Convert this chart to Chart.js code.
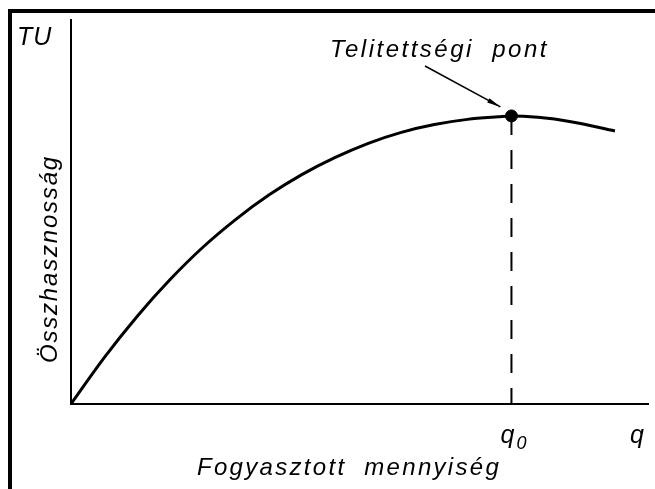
<!DOCTYPE html>
<html>
<head>
<meta charset="utf-8">
<script src="https://cdn.jsdelivr.net/npm/chart.js@4/dist/chart.umd.min.js"></script>
<style>
  html, body { margin: 0; padding: 0; background: #fff; }
  #wrap { width: 655px; height: 489px; }
</style>
</head>
<body>
<div id="wrap"><canvas id="canvas" width="655" height="489"></canvas></div>
<script>
// consumed quantity (q) and total utility (TU)
var qValues = [0, 0.75, 1.5, 2.25, 3, 3.75, 4.5, 5.25, 6, 6.75, 7.5, 8.25, 9, 9.7, 10, 10.6, 11.35, 12.35];
var tuValues = [0, 1.6, 3.04, 4.32, 5.45, 6.42, 7.26, 7.97, 8.56, 9.05, 9.43, 9.7, 9.88, 9.97, 10, 9.95, 9.8, 9.48];
var satQ = 10;      // q0, saturation point
var satTU = 10;
var axisLabels = { x: 'Fogyasztott  mennyiség', y: 'Összhasznosság', xEnd: 'q', yEnd: 'TU', q0: 'q', point: 'Telitettségi  pont' };

var curve = qValues.map(function(q, i){ return { x: q, y: tuValues[i] }; });

var font = function(size){ return 'italic ' + size + 'px "Liberation Sans", Arial, sans-serif'; };

var drawingBits = {
    id: 'drawingBits',
    afterDraw: function(chart){
        var ctx = chart.ctx;
        var xs = chart.scales.x, ys = chart.scales.y;
        ctx.save();
        // frame (top and left only)
        ctx.fillStyle = '#000';
        ctx.fillRect(8, 9, 647, 4);
        ctx.fillRect(8, 9, 4, 480);

        ctx.textBaseline = 'alphabetic';
        ctx.textAlign = 'left';

        ctx.letterSpacing = '1px';
        ctx.font = font(25);
        ctx.fillText(axisLabels.yEnd, 17, 45);

        var px = xs.getPixelForValue(satQ), py = ys.getPixelForValue(satTU);

        // label + arrow
        ctx.letterSpacing = '2.5px';
        ctx.font = font(24);
        ctx.fillText(axisLabels.point, 330, 57);
        var ex = px - 11, ey = py - 9;
        var sx = 425, sy = 66;
        ctx.strokeStyle = '#000';
        ctx.lineWidth = 1.5;
        ctx.beginPath();
        ctx.moveTo(sx, sy);
        ctx.lineTo(ex, ey);
        ctx.stroke();
        var ang = Math.atan2(ey - sy, ex - sx);
        ctx.beginPath();
        ctx.moveTo(ex, ey);
        ctx.lineTo(ex - 14 * Math.cos(ang - 0.17), ey - 14 * Math.sin(ang - 0.17));
        ctx.lineTo(ex - 14 * Math.cos(ang + 0.17), ey - 14 * Math.sin(ang + 0.17));
        ctx.closePath();
        ctx.fill();

        // q0 and q under the x axis
        ctx.letterSpacing = '0px';
        ctx.font = font(25);
        ctx.fillText(axisLabels.q0, px - 11, 443);
        ctx.font = font(18);
        ctx.fillText('0', px + 5, 449);
        ctx.font = font(25);
        ctx.fillText(axisLabels.xEnd, 630, 443);

        // x axis title
        ctx.letterSpacing = '2.3px';
        ctx.font = font(24);
        ctx.fillText(axisLabels.x, 197, 475);

        // y axis title, rotated
        ctx.letterSpacing = '1.8px';
        ctx.translate(57, 363);
        ctx.rotate(-Math.PI / 2);
        ctx.fillText(axisLabels.y, 0, 0);
        ctx.restore();
    }
};

const ctx = document.getElementById('canvas').getContext('2d');
const myChart = new Chart(ctx, {
    type: 'line',
    data: {
        datasets: [{
            data: curve,
            borderColor: '#000',
            borderWidth: 3,
            pointRadius: 0,
            cubicInterpolationMode: 'monotone',
            fill: false
        }, {
            data: [{ x: satQ, y: satTU }, { x: satQ, y: 0 }],
            borderColor: '#000',
            borderWidth: 2,
            borderDash: [19, 15],
            pointRadius: 0,
            fill: false
        }, {
            data: [{ x: satQ, y: satTU }],
            showLine: false,
            pointRadius: 6,
            pointBackgroundColor: '#000',
            pointBorderColor: '#000'
        }]
    },
    options: {
        responsive: false,
        animation: false,
        layout: { padding: { left: 71, top: 20, right: 6, bottom: 85 } },
        plugins: { legend: { display: false }, tooltip: { enabled: false } },
        scales: {
            x: {
                type: 'linear', min: 0, max: 13.1,
                grid: { display: false, drawTicks: false },
                border: { color: '#000', width: 2 },
                ticks: { display: false }
            },
            y: {
                type: 'linear', min: 0, max: 13.33,
                grid: { display: false, drawTicks: false },
                border: { color: '#000', width: 2 },
                ticks: { display: false }
            }
        }
    },
    plugins: [drawingBits]
});
</script>
</body>
</html>
